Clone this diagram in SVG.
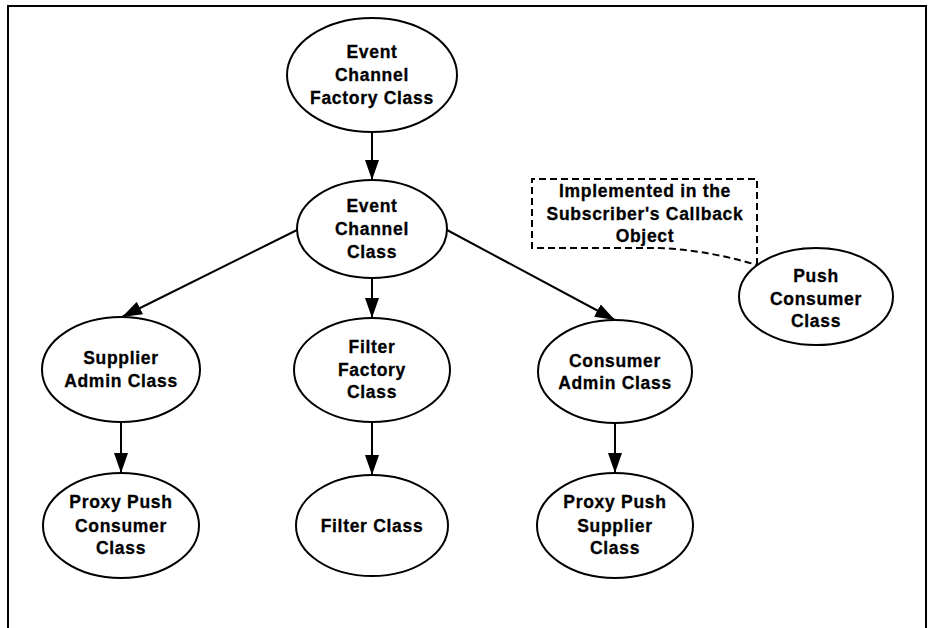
<svg xmlns="http://www.w3.org/2000/svg" width="929" height="628" viewBox="0 0 929 628">
<style>
.node{fill:#fff;stroke:#000;stroke-width:2}
.lbl{font-family:"Liberation Sans",Arial,sans-serif;font-weight:bold;font-size:17.5px;letter-spacing:0.7px;text-anchor:middle;fill:#000;stroke:#000;stroke-width:0.3}
.edge{stroke:#000;stroke-width:2;fill:none}
.note{fill:none;stroke:#000;stroke-width:2;stroke-dasharray:7,4}
</style>
<defs>
<marker id="arr" markerUnits="userSpaceOnUse" markerWidth="20" markerHeight="14" refX="20" refY="7" orient="auto">
<path d="M0,0 L20,7 L0,14 Z" fill="#000"/>
</marker>
</defs>
<rect width="929" height="628" fill="#fff"/>
<path d="M8,628 V6 H926 V628" fill="none" stroke="#000" stroke-width="2"/>

<g id="connectors">
<line class="edge" x1="372" y1="132" x2="372" y2="180" marker-end="url(#arr)"/>
<line class="edge" x1="297" y1="230" x2="122" y2="317" marker-end="url(#arr)"/>
<line class="edge" x1="372" y1="278" x2="372" y2="318" marker-end="url(#arr)"/>
<line class="edge" x1="447" y1="230" x2="615" y2="320" marker-end="url(#arr)"/>
<line class="edge" x1="121" y1="422" x2="121" y2="473" marker-end="url(#arr)"/>
<line class="edge" x1="372" y1="422" x2="372" y2="475" marker-end="url(#arr)"/>
<line class="edge" x1="615" y1="423" x2="615" y2="473" marker-end="url(#arr)"/>
</g>

<g id="ecf">
<ellipse class="node" cx="372" cy="75" rx="85" ry="57"/>
<text class="lbl" x="372" y="58">Event</text>
<text class="lbl" x="372" y="81">Channel</text>
<text class="lbl" x="372" y="103.5">Factory Class</text>
</g>

<g id="ec">
<ellipse class="node" cx="372" cy="229" rx="75" ry="49"/>
<text class="lbl" x="372" y="212">Event</text>
<text class="lbl" x="372" y="235">Channel</text>
<text class="lbl" x="372" y="257.5">Class</text>
</g>

<g id="sa">
<ellipse class="node" cx="121" cy="369.5" rx="79" ry="52.5"/>
<text class="lbl" x="121" y="364">Supplier</text>
<text class="lbl" x="121" y="387">Admin Class</text>
</g>

<g id="ff">
<ellipse class="node" cx="372" cy="370" rx="78" ry="52"/>
<text class="lbl" x="372" y="353">Filter</text>
<text class="lbl" x="372" y="375.5">Factory</text>
<text class="lbl" x="372" y="398">Class</text>
</g>

<g id="ca">
<ellipse class="node" cx="615" cy="371.5" rx="77" ry="51.5"/>
<text class="lbl" x="615" y="366.5">Consumer</text>
<text class="lbl" x="615" y="389">Admin Class</text>
</g>

<g id="ppc">
<ellipse class="node" cx="121" cy="525.5" rx="78" ry="52.5"/>
<text class="lbl" x="121" y="508">Proxy Push</text>
<text class="lbl" x="121" y="531.5">Consumer</text>
<text class="lbl" x="121" y="554">Class</text>
</g>

<g id="fc">
<ellipse class="node" cx="372" cy="525.5" rx="76" ry="50.5"/>
<text class="lbl" x="372" y="531.5">Filter Class</text>
</g>

<g id="pps">
<ellipse class="node" cx="615" cy="525.5" rx="78" ry="52.5"/>
<text class="lbl" x="615" y="508">Proxy Push</text>
<text class="lbl" x="615" y="531.5">Supplier</text>
<text class="lbl" x="615" y="554">Class</text>
</g>

<g id="pc">
<ellipse class="node" cx="816" cy="296.5" rx="77" ry="48.5"/>
<text class="lbl" x="816" y="281.5">Push</text>
<text class="lbl" x="816" y="304.5">Consumer</text>
<text class="lbl" x="816" y="326.5">Class</text>
</g>

<g id="note">
<path class="note" d="M757,265 V179 H532 V248 H650 Q700,248 757,265"/>
<text class="lbl" x="645" y="196.5">Implemented in the</text>
<text class="lbl" x="645" y="219.5">Subscriber's Callback</text>
<text class="lbl" x="645" y="241.5">Object</text>
</g>
</svg>
